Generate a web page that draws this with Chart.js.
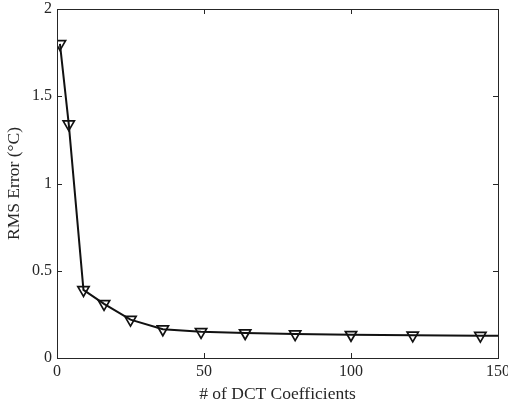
<!DOCTYPE html>
<html>
<head>
<meta charset="utf-8">
<script src="https://cdn.jsdelivr.net/npm/chart.js@4"></script>
<style>
  html, body { margin: 0; padding: 0; background: #fff; }
  #wrap { width: 508px; height: 409px; position: relative; }
</style>
</head>
<body>
<div id="wrap"><canvas id="rmsChart"></canvas></div>
<script>
// данные
const coeffCounts = [1, 4, 9, 16, 25, 36, 49, 64, 81, 100, 121, 144, 150];
const rmsError = [1.80, 1.34, 0.39, 0.31, 0.22, 0.165, 0.15, 0.143, 0.137, 0.133, 0.130, 0.128, 0.127];
const markerShown = [true, true, true, true, true, true, true, true, true, true, true, true, false];
const xTicks = [0, 50, 100, 150];
const yTicks = [0, 0.5, 1, 1.5, 2];

const axisColor = '#262626';
const fontFamily = '"Liberation Serif", "DejaVu Serif", serif';

// рамка и внутренние засечки как в MATLAB
const boxTicks = {
    id: 'boxTicks',
    afterDraw(chart) {
        const { ctx, chartArea: a, scales } = chart;
        ctx.save();
        ctx.strokeStyle = axisColor;
        ctx.lineWidth = 1;
        ctx.strokeRect(a.left + 0.5, a.top + 0.5, a.right - a.left, a.bottom - a.top);
        const len = 5;
        ctx.beginPath();
        xTicks.forEach(v => {
            const px = Math.round(scales.x.getPixelForValue(v)) + 0.5;
            ctx.moveTo(px, a.bottom); ctx.lineTo(px, a.bottom - len);
            ctx.moveTo(px, a.top); ctx.lineTo(px, a.top + len);
        });
        yTicks.forEach(v => {
            const py = Math.round(scales.y.getPixelForValue(v)) + 0.5;
            ctx.moveTo(a.left, py); ctx.lineTo(a.left + len, py);
            ctx.moveTo(a.right, py); ctx.lineTo(a.right - len, py);
        });
        ctx.stroke();
        ctx.restore();
    }
};

const points = coeffCounts.map((x, i) => ({ x: x, y: rmsError[i] }));

new Chart(document.getElementById('rmsChart'), {
    type: 'scatter',
    data: {
        datasets: [{
            data: points,
            showLine: true,
            borderColor: '#111111',
            borderWidth: 2,
            tension: 0,
            pointStyle: 'triangle',
            rotation: 180,
            pointRadius: ctx => markerShown[ctx.dataIndex] ? 6.5 : 0,
            pointBackgroundColor: 'rgba(0,0,0,0)',
            pointBorderColor: '#111111',
            pointBorderWidth: 1.7
        }]
    },
    options: {
        responsive: true,
        maintainAspectRatio: false,
        animation: false,
        layout: { padding: { top: 9, right: 10, left: 0, bottom: 0 } },
        plugins: { legend: { display: false }, tooltip: { enabled: false } },
        scales: {
            x: {
                type: 'linear',
                min: 0, max: 150,
                afterBuildTicks: s => { s.ticks = xTicks.map(v => ({ value: v })); },
                afterFit: s => { s.height = 51; s.paddingRight = 0; s.paddingLeft = 0; },
                grid: { display: false, drawTicks: false },
                border: { display: false },
                ticks: { color: axisColor, font: { family: fontFamily, size: 16 }, padding: 4, maxRotation: 0 },
                title: { display: true, text: '# of DCT Coefficients', color: axisColor,
                         font: { family: fontFamily, size: 17.5 }, padding: { top: 0 } }
            },
            y: {
                type: 'linear',
                min: 0, max: 2,
                afterBuildTicks: s => { s.ticks = yTicks.map(v => ({ value: v })); },
                afterFit: s => { s.width = 57; s.paddingTop = 0; s.paddingBottom = 0; },
                grid: { display: false, drawTicks: false },
                border: { display: false },
                ticks: { color: axisColor, font: { family: fontFamily, size: 16 }, padding: 5,
                         callback: v => String(v) },
                title: { display: true, text: 'RMS Error (°C)', color: axisColor,
                         font: { family: fontFamily, size: 17.5 }, padding: { bottom: 0 } }
            }
        }
    },
    plugins: [boxTicks]
});
</script>
</body>
</html>
